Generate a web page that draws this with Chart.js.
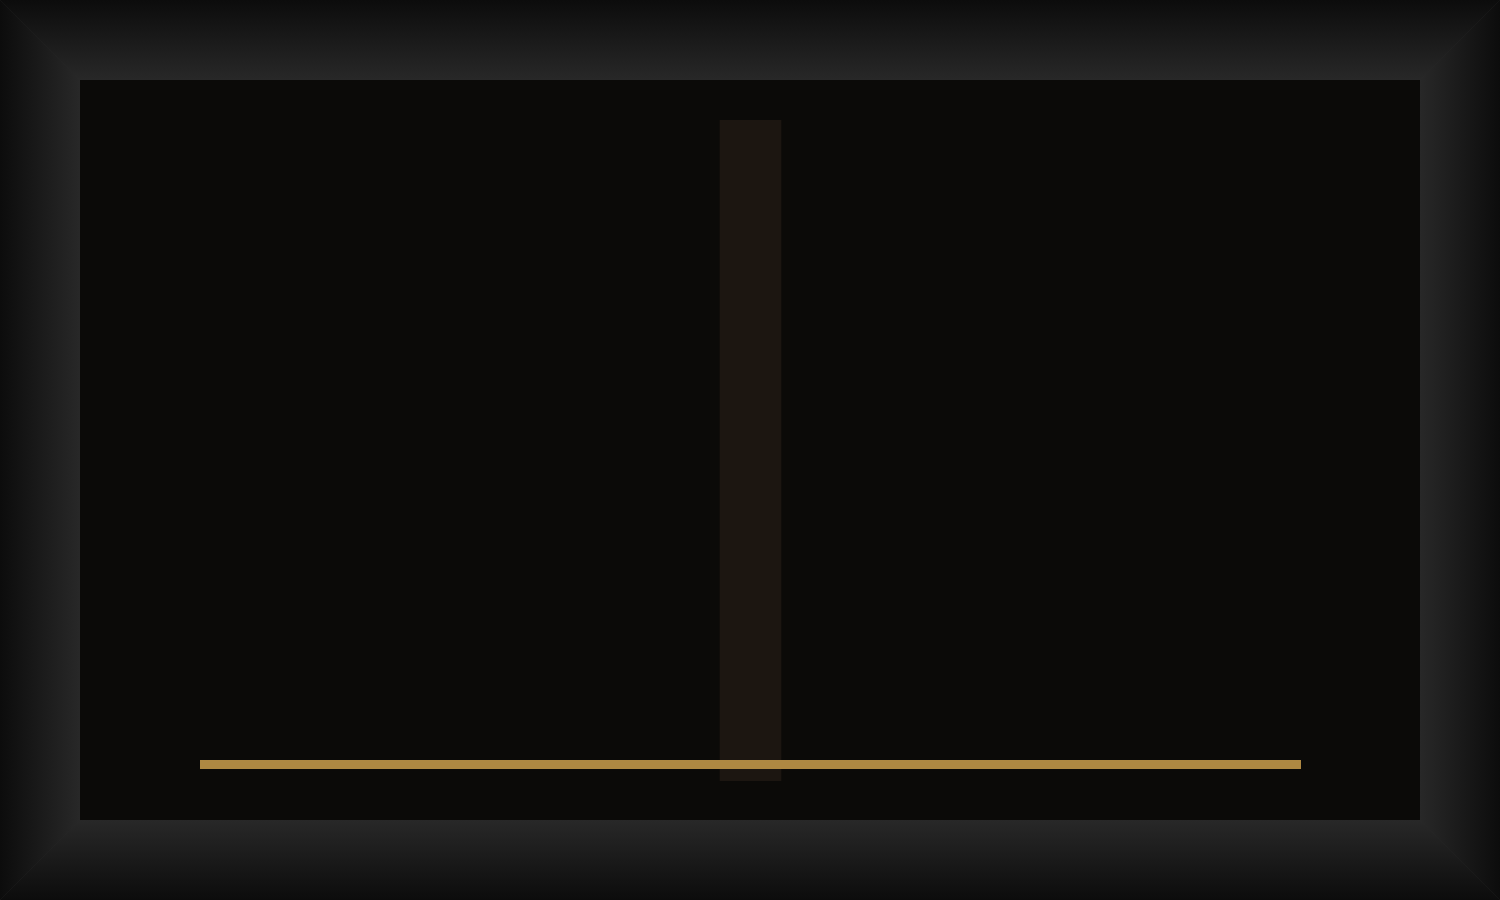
<!DOCTYPE html>
<html>
<head>
<meta charset="utf-8">
<script src="https://cdn.jsdelivr.net/npm/chart.js@4"></script>
<style>
  html, body { margin: 0; padding: 0; width: 1500px; height: 900px; overflow: hidden; background: #282828; }
  .side { position: absolute; left: 0; top: 0; width: 1500px; height: 900px; }
  .top { clip-path: polygon(0 0, 1500px 0, 1420px 80px, 80px 80px); background: linear-gradient(to bottom, #0c0c0c 0px, #282828 80px, #282828 100%); }
  .bottom { clip-path: polygon(0 900px, 1500px 900px, 1420px 820px, 80px 820px); background: linear-gradient(to top, #0c0c0c 0px, #282828 80px, #282828 100%); }
  .left { clip-path: polygon(0 0, 80px 80px, 80px 820px, 0 900px); background: linear-gradient(to right, #0c0c0c 0px, #282828 80px, #282828 100%); }
  .right { clip-path: polygon(1500px 0, 1420px 80px, 1420px 820px, 1500px 900px); background: linear-gradient(to left, #0c0c0c 0px, #282828 80px, #282828 100%); }
  #wrap { position: absolute; left: 80px; top: 80px; width: 1340px; height: 740px; background: #0b0a08; }
</style>
</head>
<body>
<div class="side top"></div>
<div class="side bottom"></div>
<div class="side left"></div>
<div class="side right"></div>
<div id="wrap"><canvas id="c"></canvas></div>
<script>
const categories = ['Start', 'Middle', 'End'];
const baselineValues = [2.5, 2.5, 2.5];
const highlightValues = [null, 100, null];

new Chart(document.getElementById('c'), {
  type: 'bar',
  data: {
    labels: categories,
    datasets: [
      {
        type: 'line',
        label: 'Baseline',
        data: baselineValues,
        borderColor: '#ae8842',
        borderWidth: 9,
        pointRadius: 0,
        borderCapStyle: 'butt',
        fill: false,
        order: 0
      },
      {
        type: 'bar',
        label: 'Highlight',
        data: highlightValues,
        backgroundColor: '#1c1611',
        borderWidth: 0,
        barThickness: 61,
        order: 1
      }
    ]
  },
  options: {
    responsive: true,
    maintainAspectRatio: false,
    animation: false,
    layout: { padding: { left: 120, right: 119, top: 40, bottom: 39 } },
    plugins: { legend: { display: false }, tooltip: { enabled: false } },
    scales: {
      x: { display: false, offset: false, grid: { offset: false } },
      y: { display: false, min: 0, max: 100 }
    }
  }
});
</script>
</body>
</html>
